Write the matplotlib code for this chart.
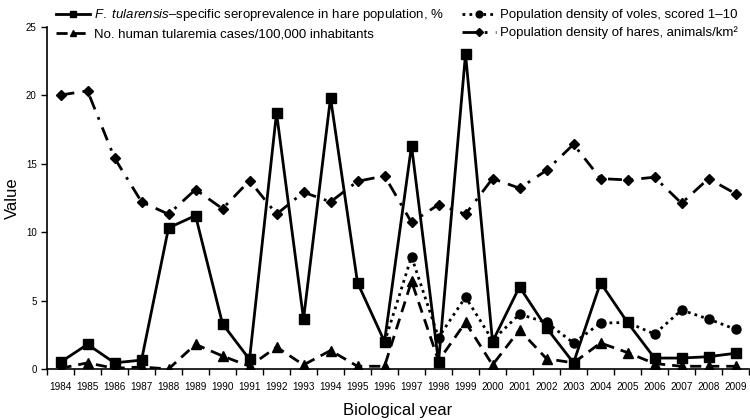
import matplotlib
matplotlib.use("Agg")
import matplotlib.pyplot as plt
from matplotlib import font_manager
import numpy as np

years = [str(y) for y in range(1984, 2010)]

seroprevalence = [0.5, 1.8, 0.45, 0.65, 10.3, 11.2, 3.3, 0.7, 18.7, 3.65, 19.8, 6.3, 2.0,
                  16.3, 0.5, 23.0, 2.0, 6.0, 3.0, 0.45, 6.3, 3.4, 0.8, 0.8, 0.9, 1.15]
human_cases = [0.05, 0.45, 0.05, 0.15, 0.0, 1.8, 0.95, 0.2, 1.6, 0.3, 1.35, 0.2, 0.2,
               6.4, 0.6, 3.4, 0.3, 2.85, 0.75, 0.45, 1.9, 1.2, 0.4, 0.2, 0.2, 0.2]
voles = [None] * 12 + [1.95, 8.2, 2.3, 5.25, 2.1, 4.0, 3.4, 1.9, 3.35, 3.4, 2.55, 4.3, 3.65, 2.9]
hares = [20.0, 20.3, 15.4, 12.2, 11.3, 13.1, 11.7, 13.75, 11.3, 12.9, 12.2, 13.7, 14.1,
         10.7, 12.0, 11.3, 13.9, 13.2, 14.5, 16.4, 13.9, 13.8, 14.0, 12.1, 13.9, 12.8]

labels = [r"$\mathit{F.\ tularensis}$–specific seroprevalence in hare population, %",
          "No. human tularemia cases/100,000 inhabitants",
          "Population density of voles, scored 1–10",
          "Population density of hares, animals/km²"]

names = {f.name for f in font_manager.fontManager.ttflist}
base = "Liberation Sans" if "Liberation Sans" in names else "DejaVu Sans"
plt.rcParams['font.family'] = [base, 'DejaVu Sans']
plt.rcParams['mathtext.fontset'] = 'custom'
plt.rcParams['mathtext.it'] = base + ':italic'
plt.rcParams['mathtext.rm'] = base

fig = plt.figure(figsize=(7.5, 4.2), dpi=100)
ax = fig.add_axes([0.0627, 0.1214, 0.936, 0.8155])

x = np.arange(len(years))
v = np.array([np.nan if a is None else a for a in voles], dtype=float)

l1, = ax.plot(x, seroprevalence, color='black', lw=2.0, marker='s', ms=6.5, zorder=5)
l2, = ax.plot(x, human_cases, color='black', lw=2.0, ls=(0, (4, 2.5)), marker='^', ms=6.5, zorder=4)
l3, = ax.plot(x, v, color='black', lw=2.0, ls=(0, (1, 1.5)), marker='o', ms=6.5, zorder=3)
l4, = ax.plot(x, hares, color='black', lw=2.0, ls=(0, (5, 3, 1, 3)), marker='D', ms=5.5, zorder=2)

ax.set_xlim(-0.5, len(years) - 0.5)
ax.set_ylim(0, 25)
ax.set_yticks([0, 5, 10, 15, 20, 25])
ax.tick_params(axis='y', labelsize=7, length=4, width=1)
ax.set_xticks(x)
ax.set_xticklabels(years, fontsize=7.2)
ax.tick_params(axis='x', which='major', length=0, pad=9)
ax.set_xticks(np.arange(-0.5, len(years)), minor=True)
ax.tick_params(axis='x', which='minor', length=4, width=1)
for s in ['top', 'right']:
    ax.spines[s].set_visible(False)
ax.spines['left'].set_linewidth(1.2)
ax.spines['bottom'].set_linewidth(1.2)

ax.set_ylabel("Value", fontsize=12, labelpad=4)
ax.set_xlabel("Biological year", fontsize=12, labelpad=8)

fig.legend([l1, l2, l3, l4], labels, ncol=2, loc='upper left',
           bbox_to_anchor=(0.074, 0.983), frameon=False, fontsize=9.5,
           handlelength=2.6, handletextpad=0.3, columnspacing=1.35,
           labelspacing=0.4, borderaxespad=0, borderpad=0, markerscale=0.75)

fig.savefig("out.png", dpi=100)
